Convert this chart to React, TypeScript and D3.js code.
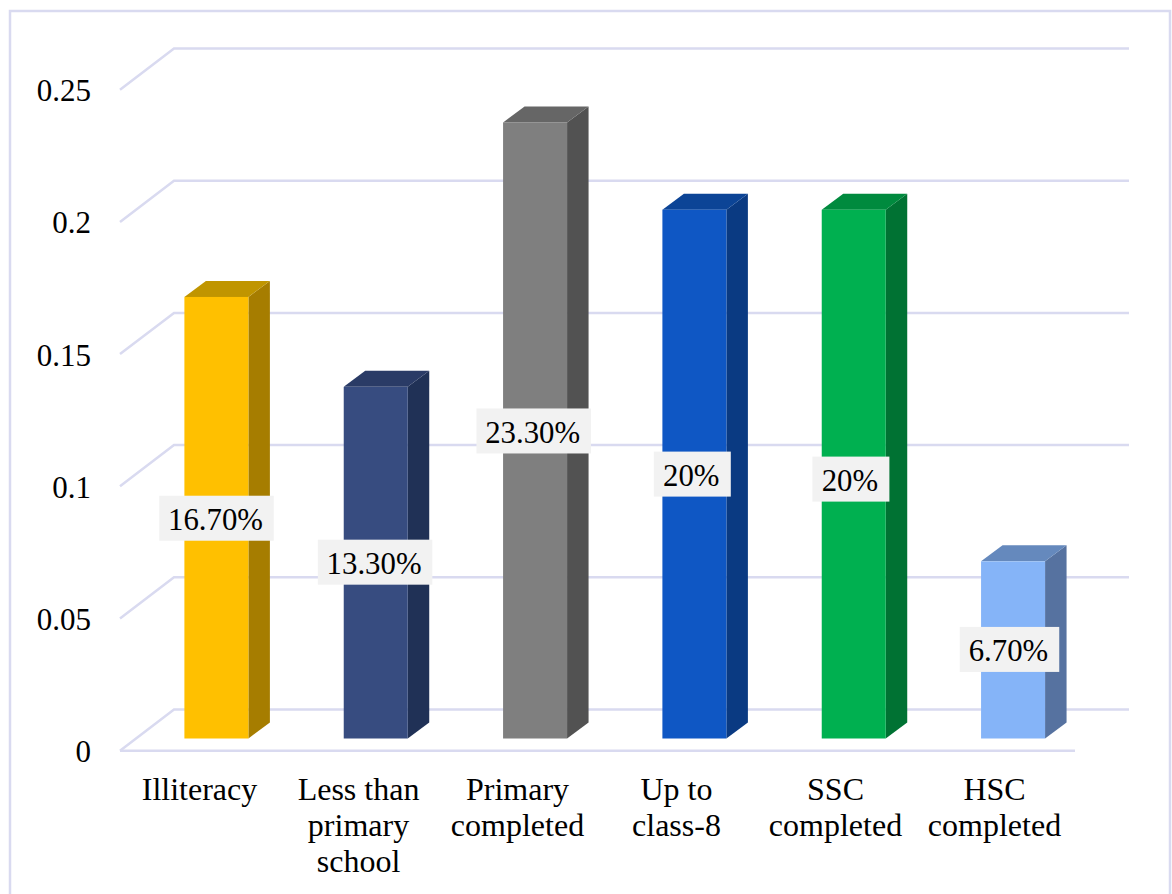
import React from "react";
import * as d3 from "d3";

// Share of respondents by level of education
const categories = ["Illiteracy", "Less than primary school", "Primary completed", "Up to class-8", "SSC completed", "HSC completed"];
const categoryLines = [["Illiteracy"], ["Less than", "primary", "school"], ["Primary", "completed"], ["Up to", "class-8"], ["SSC", "completed"], ["HSC", "completed"]];
const values = [0.167, 0.133, 0.233, 0.2, 0.2, 0.067];
const valueLabels = ["16.70%", "13.30%", "23.30%", "20%", "20%", "6.70%"];
const yTicks = [0, 0.05, 0.1, 0.15, 0.2, 0.25];
const yTickLabels = ["0", "0.05", "0.1", "0.15", "0.2", "0.25"];
const frontColors = ["#FFC000", "#374C80", "#7F7F7F", "#0F57C4", "#00B050", "#85B4F8"];
const sideColors = ["#A67D00", "#203156", "#525252", "#0A3A82", "#007233", "#5672A0"];
const topColors = ["#C09500", "#2A3B66", "#666666", "#0C4496", "#008A3E", "#6589BD"];

const WIDTH = 1172;
const HEIGHT = 894;
const GRID = "#D9DAF0";
const FONT = "'Liberation Serif', 'Times New Roman', serif";

// Perspective of the floor: the back wall sits up and to the right of the front edge
const WALL_DX = 54;
const WALL_DY = 41.2;
const BAR_DX = 21.5;
const BAR_DY = 16;
const BAR_WIDTH = 64;
const BAR_INSET = 64;
const BAR_BASE_DROP = 29;
const LABEL_PAD = 22;

export default function App() {
  const x = d3.scaleBand<string>().domain(categories).range([120.4, 1076.4]);
  const y = d3.scaleLinear().domain([0, 0.25]).range([709.5, 48.5]);
  const baseY = y(0) + BAR_BASE_DROP;
  const barTop = (v: number) => y(v) + BAR_BASE_DROP;

  // Label boxes wrap the text width; each sits at about half the bar's height
  const labelBoxWidth = (s: string) => {
    const chars = s.replace("%", "").split("");
    const em = chars.reduce((acc, c) => acc + (c === "." ? 0.25 : 0.5), 0.833);
    return em * 30 + LABEL_PAD;
  };
  const labelNudge = [0.5, -0.5, 0.5, 0, 5, -0.5];

  const poly = d3.line<[number, number]>();

  return (
    <svg
      width={WIDTH}
      height={HEIGHT}
      viewBox={`0 0 ${WIDTH} ${HEIGHT}`}
      style={{ position: "absolute", left: 0, top: 0, display: "block", background: "#fff" }}
      fontFamily={FONT}
    >
      <rect x={10} y={11} width={1160} height={HEIGHT + 20} fill="#fff" stroke={GRID} strokeWidth={2.5} />

      {yTicks.map((t) => (
        <path
          key={t}
          d={poly([
            [120, y(t) + WALL_DY],
            [120 + WALL_DX, y(t)],
            [1129, y(t)],
          ]) ?? ""}
          fill="none"
          stroke={GRID}
          strokeWidth={2.5}
        />
      ))}
      <line x1={120} x2={1075} y1={y(0) + WALL_DY} y2={y(0) + WALL_DY} stroke={GRID} strokeWidth={2.5} />

      {yTicks.map((t, i) => (
        <text key={t} x={91} y={y(t) + WALL_DY + 11.5} textAnchor="end" fontSize={31} fill="#000">
          {yTickLabels[i]}
        </text>
      ))}

      {categories.map((c, i) => {
        const left = (x(c) ?? 0) + BAR_INSET;
        const right = left + BAR_WIDTH;
        const top = barTop(values[i]);
        return (
          <g key={c}>
            <path
              d={`${poly([
                [right, top],
                [right + BAR_DX, top - BAR_DY],
                [right + BAR_DX, baseY - BAR_DY],
                [right, baseY],
              ])}Z`}
              fill={sideColors[i]}
            />
            <path
              d={`${poly([
                [left, top],
                [left + BAR_DX, top - BAR_DY],
                [right + BAR_DX, top - BAR_DY],
                [right, top],
              ])}Z`}
              fill={topColors[i]}
            />
            <rect x={left} y={top} width={BAR_WIDTH} height={baseY - top} fill={frontColors[i]} />
          </g>
        );
      })}

      {categories.map((c, i) => {
        const cx = 216.5 + i * 158.6;
        const cy = (barTop(values[i]) + baseY) / 2 + labelNudge[i];
        const w = labelBoxWidth(valueLabels[i]);
        return (
          <g key={c}>
            <rect x={cx - w / 2} y={cy - 22.5} width={w} height={45} fill="#F2F2F2" />
            <text x={cx - 1} y={cy + 12} textAnchor="middle" fontSize={30.8} fill="#000">
              {valueLabels[i]}
            </text>
          </g>
        );
      })}

      {categories.map((c, i) => (
        <text key={c} textAnchor="middle" fontSize={32} fill="#000">
          {categoryLines[i].map((line, j) => (
            <tspan key={line} x={199.5 + i * 159} y={799.5 + j * 36}>
              {line}
            </tspan>
          ))}
        </text>
      ))}
    </svg>
  );
}
